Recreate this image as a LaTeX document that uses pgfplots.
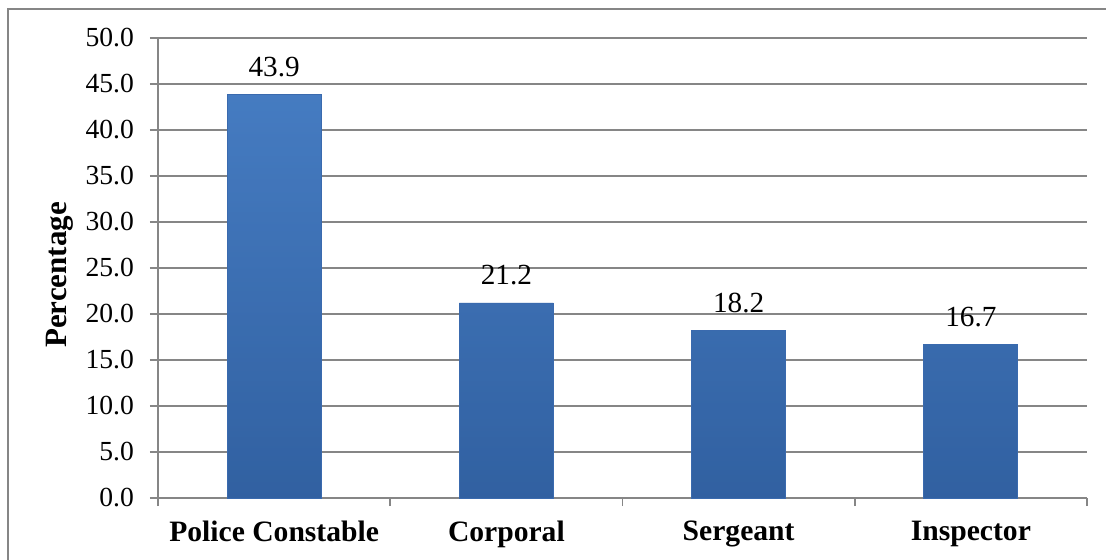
\documentclass[border=0pt]{standalone}
\usepackage{fontspec}
\setmainfont{Liberation Serif}
\usepackage{pgfplots}
\usepackage{pgfplotstable}
\pgfplotsset{compat=1.18}

\definecolor{axgray}{HTML}{868686}
\definecolor{bartop}{HTML}{4F8AD5}
\definecolor{barbot}{HTML}{3466AA}
\definecolor{baredge}{HTML}{3A6AAE}

% Share of respondents by rank
\pgfplotstableread{
idx value
0 43.9
1 21.2
2 18.2
3 16.7
}\rankdata

\newcommand{\tickfont}{\fontsize{13.8}{16}\selectfont}
\newcommand{\valfont}{\fontsize{14.6}{17}\selectfont}
\newcommand{\catfont}{\fontsize{14.8}{17}\selectfont\bfseries}
\newcommand{\labfont}{\fontsize{15.5}{18}\selectfont\bfseries}

\begin{document}
\begin{tikzpicture}
\useasboundingbox (0,0) rectangle (553pt,279.5pt);
% frame of the chart area
\begin{scope}
  \clip (0,0) rectangle (553pt,279.5pt);
  \draw[axgray, line width=1pt] (4pt,-20pt) -- (4pt,275pt) -- (600pt,275pt);
\end{scope}
\begin{axis}[
  at={(79pt,30.5pt)}, anchor=south west,
  scale only axis,
  width=464.5pt, height=230pt,
  xmin=-0.5, xmax=3.5,
  ymin=0, ymax=50,
  axis x line*=bottom,
  axis y line*=left,
  axis line style={draw=axgray, line width=0.9pt, -},
  tick align=outside,
  xtick={0,1,2,3},
  xticklabels={Police Constable, Corporal, Sergeant, Inspector},
  xtick style={draw=none},
  minor xtick={-0.5,0.5,1.5,2.5,3.5},
  minor tick length=4pt,
  minor x tick style={draw=axgray, line width=0.9pt},
  ytick={0,5,...,50},
  major tick length=4pt,
  ytick style={draw=axgray, line width=0.9pt},
  ymajorgrids,
  major grid style={draw=axgray, line width=0.9pt},
  /pgf/number format/assume math mode=true,
  tick label style={font=\tickfont, text=black},
  yticklabel style={xshift=-4.5pt, /pgf/number format/.cd, fixed, fixed zerofill, precision=1},
  xticklabel style={font=\catfont, yshift=-4pt},
  ylabel={Percentage},
  ylabel style={font=\labfont, at={(axis description cs:-0.1055,0.485)}, anchor=center},
  nodes near coords,
  nodes near coords style={font=\valfont, anchor=base, yshift=9pt,
    /pgf/number format/.cd, fixed, fixed zerofill, precision=1},
  clip=false,
]
% bars with a vertical gradient and slightly darker side edges
\addplot[ybar, bar width=47pt, draw=baredge, line width=0.4pt,
  top color=bartop, bottom color=barbot,
  postaction={left color=barbot!80!black, middle color=bartop, right color=barbot!80!black, fill opacity=0.25}]
  table[x=idx, y=value] {\rankdata};
\end{axis}
\end{tikzpicture}
\end{document}
